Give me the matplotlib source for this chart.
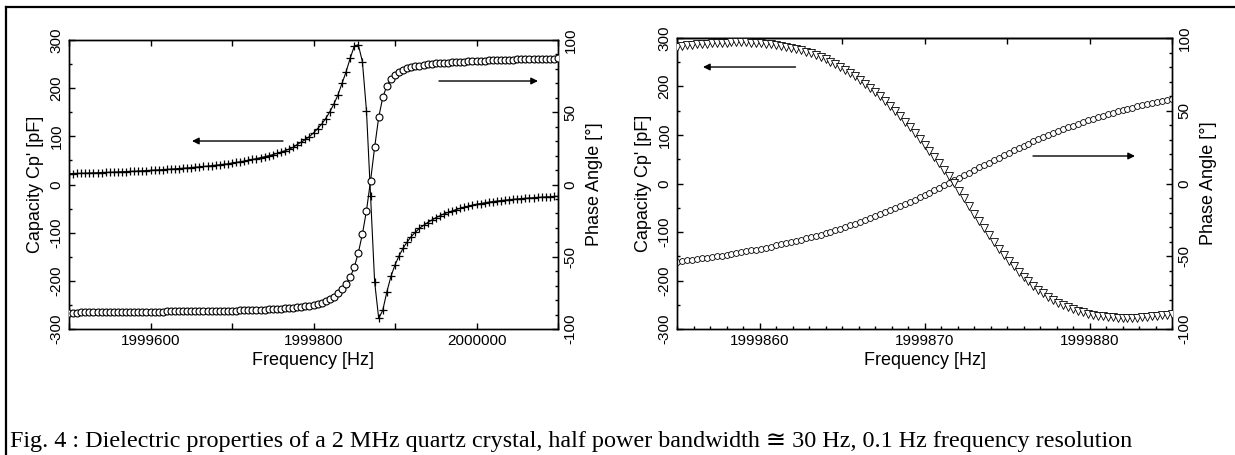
import matplotlib
matplotlib.use('Agg')
import matplotlib.pyplot as plt
from matplotlib.ticker import MultipleLocator, FuncFormatter
from matplotlib.lines import Line2D
import numpy as np

plt.rcParams['font.family'] = ['Liberation Sans', 'DejaVu Sans']
plt.rcParams['axes.unicode_minus'] = False

# ---------------- data ----------------
# wide sweep: 1999500 .. 2000100 Hz, 5 Hz step
wide_start, wide_step, wide_n = 1999500, 5, 121
cp_wide = [22.5, 22.8, 23.0, 23.3, 23.6, 23.9, 24.2, 24.5, 24.8, 25.1, 25.4, 25.8, 26.1, 26.5, 26.8, 27.2, 27.6, 28.0, 28.5, 28.9,
           29.4, 29.9, 30.4, 30.9, 31.4, 32.0, 32.5, 33.2, 33.8, 34.4, 35.1, 35.9, 36.6, 37.4, 38.2, 39.1, 40.0, 41.0, 42.0, 43.1,
           44.5, 45.8, 47.2, 48.7, 50.3, 52.0, 53.8, 55.7, 57.7, 59.8, 62.0, 64.5, 67.2, 70.2, 73.5, 77.0,
           83, 88, 93.5, 99.5, 107, 116, 125.5, 137, 151, 167, 186, 210, 234, 262, 287, 290, 255, 153, -23, -202, -278, -261, -223, -191,
           -167, -148, -132, -119, -108, -99, -91, -85, -79, -74, -69, -65, -61, -58, -55, -52, -49.5, -47, -45, -43, -41,
           -39.5, -38, -36.7, -35.5, -34.4, -33.4, -32.5, -31.6, -30.8, -30, -29.3, -28.6, -28, -27.4, -26.8, -26.3, -25.8, -25.3, -24.9, -24.5]
phase_wide = [-88.6, -88.6, -88.6, -88.5, -88.5, -88.5, -88.4, -88.4, -88.4, -88.3, -88.3, -88.3, -88.2, -88.2, -88.2, -88.1, -88.1, -88.1, -88.0, -88.0, -88.0,
              -87.9, -87.9, -87.9, -87.8, -87.8, -87.8, -87.7, -87.7, -87.7, -87.6, -87.6, -87.6, -87.5, -87.5, -87.5, -87.4, -87.4, -87.4, -87.3, -87.3,
              -87.2, -87.1, -87.0, -86.9, -86.9, -86.8, -86.7, -86.6, -86.5, -86.4,
              -86.2, -86.0, -85.8, -85.6, -85.3, -85.0, -84.6, -84.2, -83.8, -83.4, -82.7, -81.8, -80.8, -79.5, -77.6, -75.3, -72.5, -68.9,
              -64.2, -57.3, -47.2, -34.3, -18.1, 2.6, 25.7, 46.5, 60.3, 68.2, 72.8,
              75.8, 77.8, 79.3, 80.4, 81.2, 81.8, 82.3, 82.7, 83.1, 83.5, 83.8, 84.0, 84.2, 84.4, 84.6, 84.8, 85.0, 85.1, 85.3, 85.4,
              85.6, 85.7, 85.8, 85.9, 86.0, 86.1, 86.2, 86.3, 86.4, 86.5, 86.6, 86.7, 86.7, 86.8, 86.9, 86.9, 87.0, 87.0, 87.1, 87.1, 87.2]

# narrow sweep: 1999855 .. 1999885 Hz
zoom_start, zoom_step, zoom_n = 1999855, 0.3, 101
cp_zoom = [282.3, 283.5, 284.6, 285.7, 286.7, 287.6, 288.4, 289.1, 289.7, 290.2,
           290.6, 290.9, 291.0, 291.0, 290.8, 290.4, 289.9, 289.2, 288.2, 287.1,
           285.7, 284.1, 282.2, 280.0, 277.6, 274.8, 271.8, 268.4, 264.6, 260.5,
           256.1, 251.2, 246.0, 240.3, 234.2, 227.7, 220.7, 213.4, 205.6, 197.3,
           188.6, 179.5, 170.0, 160.0, 149.6, 138.8, 127.7, 116.2, 104.4, 92.4,
           80.0, 67.5, 54.7, 41.8, 28.8, 15.7, 1.6, -14.6, -30.7, -46.6,
           -62.3, -77.6, -92.5, -107.0, -121.0, -134.4, -147.3, -159.5, -171.1, -182.0,
           -192.2, -201.8, -210.7, -218.9, -226.4, -233.4, -239.7, -245.4, -250.6, -255.1,
           -259.2, -262.8, -265.9, -268.5, -270.8, -272.6, -274.1, -275.3, -276.1, -276.7,
           -276.9, -277.0, -276.8, -276.4, -275.9, -275.1, -274.2, -273.1, -271.9, -270.6,
           -269.2]
phase_zoom = [-53.8, -53.4, -52.9, -52.5, -52.0, -51.5, -51.1, -50.6, -50.1, -49.5,
              -49.0, -48.4, -47.9, -47.3, -46.7, -46.0, -45.4, -44.8, -44.1, -43.4,
              -42.6, -41.9, -41.1, -40.3, -39.5, -38.7, -37.8, -36.9, -36.0, -35.1,
              -34.1, -33.1, -32.0, -31.0, -29.9, -28.7, -27.6, -26.4, -25.2, -23.9,
              -22.6, -21.3, -19.9, -18.5, -17.1, -15.6, -14.1, -12.6, -11.0, -9.4,
              -7.8, -6.2, -4.5, -2.8, -1.1, 0.6, 2.3, 4.0, 5.8, 7.5,
              9.2, 11.0, 12.7, 14.4, 16.1, 17.8, 19.5, 21.1, 22.7, 24.3,
              25.9, 27.4, 28.9, 30.4, 31.8, 33.2, 34.6, 35.9, 37.2, 38.6,
              39.8, 41.0, 42.2, 43.3, 44.4, 45.5, 46.5, 47.6, 48.5, 49.5,
              50.4, 51.3, 52.2, 53.0, 53.8, 54.7, 55.4, 56.2, 56.9, 57.6,
              58.3]

xlabel = "Frequency [Hz]"
ylabel_left = "Capacity Cp' [pF]"
ylabel_right = "Phase Angle [°]"
caption = ("Fig. 4 : Dielectric properties of a 2 MHz quartz crystal, half power bandwidth \u2245 30 Hz, "
           "0.1 Hz frequency resolution")

f_wide = wide_start + wide_step * np.arange(wide_n)
f_zoom = np.round(zoom_start + zoom_step * np.arange(zoom_n), 1)

# ---------------- figure ----------------
W, H = 1235, 455
fig = plt.figure(figsize=(W / 100, H / 100), dpi=100)
fig.patch.set_facecolor('white')

TICK_FS = 11
LABEL_FS = 13


def style_axes(ax, twin):
    for a in (ax, twin):
        for s in a.spines.values():
            s.set_linewidth(1.0)
    ax.tick_params(axis='both', which='both', direction='in', width=1.0, labelsize=TICK_FS)
    ax.tick_params(which='major', length=4)
    ax.tick_params(which='minor', length=2.5)
    ax.tick_params(axis='y', which='both', left=True, right=False)
    twin.tick_params(axis='y', which='both', direction='in', width=1.0, labelsize=TICK_FS, right=True, left=False)
    twin.tick_params(which='major', length=4)
    twin.tick_params(which='minor', length=2.5)
    ax.set_ylim(-300, 300)
    ax.yaxis.set_major_locator(MultipleLocator(100))
    ax.yaxis.set_minor_locator(MultipleLocator(50))
    twin.set_ylim(-100, 100)
    twin.yaxis.set_major_locator(MultipleLocator(50))
    twin.yaxis.set_minor_locator(MultipleLocator(10))
    ax.xaxis.set_major_formatter(FuncFormatter(lambda v, p: f"{v:.0f}"))
    ax.set_xlabel(xlabel, fontsize=LABEL_FS, labelpad=3)
    ax.set_ylabel(ylabel_left, fontsize=LABEL_FS, labelpad=4)
    twin.set_ylabel(ylabel_right, fontsize=LABEL_FS, labelpad=6, rotation=90)
    ax.tick_params(axis='y', pad=4)
    twin.tick_params(axis='y', pad=4)


def rotate_ylabels(ax, twin):
    for lab in ax.get_yticklabels():
        lab.set_rotation(90)
        lab.set_va('center')
        lab.set_ha('right')
    for lab in twin.get_yticklabels():
        lab.set_rotation(90)
        lab.set_va('center')
        lab.set_ha('left')


arrow_kw = dict(arrowstyle='-|>', color='black', lw=1.0, mutation_scale=10, shrinkA=0, shrinkB=0)

# ----- left panel -----
axL = fig.add_axes([69 / W, 126 / H, 489 / W, 289 / H])
axL2 = axL.twinx()
axL.plot(f_wide, cp_wide, color='black', lw=0.8, marker='+', ms=6, mew=0.9, zorder=3)
axL2.plot(f_wide, phase_wide, color='black', lw=0.8, marker='o', ms=5, mew=0.8, mfc='white', zorder=3)
axL.set_xlim(1999500, 2000100)
axL.xaxis.set_major_locator(MultipleLocator(200))
axL.xaxis.set_minor_locator(MultipleLocator(100))
axL.tick_params(axis='x', which='both', top=True, bottom=True)
style_axes(axL, axL2)
axL.tick_params(axis='x', which='minor', length=4)
axL.annotate('', xy=(0.2515, 0.6505), xytext=(0.4376, 0.6505), xycoords='axes fraction',
             textcoords='axes fraction', arrowprops=arrow_kw)
axL.annotate('', xy=(0.9591, 0.8581), xytext=(0.7566, 0.8581), xycoords='axes fraction',
             textcoords='axes fraction', arrowprops=arrow_kw)

# ----- right panel -----
axR = fig.add_axes([677 / W, 126 / H, 495 / W, 291 / H])
axR2 = axR.twinx()
axR2.plot(f_zoom, phase_zoom, color='black', lw=0, marker='o', ms=4.2, mew=0.6, mfc='white', zorder=3)
axR.plot(f_zoom, cp_zoom, color='black', lw=0, marker='v', ms=5.5, mew=0.6, mfc='white', zorder=3)
axR.set_zorder(axR2.get_zorder() + 1)
axR.patch.set_visible(False)
axR.set_xlim(1999855, 1999885)
axR.xaxis.set_major_locator(MultipleLocator(10))
axR.xaxis.set_minor_locator(MultipleLocator(1))
axR.tick_params(axis='x', which='both', top=False, bottom=True)
style_axes(axR, axR2)
top = axR.secondary_xaxis('top')
top.xaxis.set_major_locator(MultipleLocator(5))
top.tick_params(axis='x', direction='in', length=4, width=1.0, labeltop=False)
top.spines['top'].set_linewidth(1.0)
axR.annotate('', xy=(0.0525, 0.9003), xytext=(0.2394, 0.9003), xycoords='axes fraction',
             textcoords='axes fraction', arrowprops=arrow_kw)
axR.annotate('', xy=(0.9253, 0.5945), xytext=(0.7192, 0.5945), xycoords='axes fraction',
             textcoords='axes fraction', arrowprops=arrow_kw)

rotate_ylabels(axL, axL2)
rotate_ylabels(axR, axR2)

# ----- frame lines (table cell border) -----
fig.add_artist(Line2D([6 / W, 1.0], [1 - 6.5 / H, 1 - 6.5 / H], transform=fig.transFigure, color='black', lw=1.6))
fig.add_artist(Line2D([6 / W, 6 / W], [0, 1 - 6.5 / H], transform=fig.transFigure, color='black', lw=1.6))

# ----- caption -----
cap = fig.text(10 / W, 8 / H, caption, family=['Liberation Serif', 'DejaVu Serif', 'DejaVu Sans'], fontsize=15,
               ha='left', va='baseline')
fig.canvas.draw()
w = cap.get_window_extent().width
cap.set_fontsize(15 * 1126 / w)
rotate_ylabels(axL, axL2)
rotate_ylabels(axR, axR2)

fig.savefig('out.png', dpi=100, facecolor='white')
